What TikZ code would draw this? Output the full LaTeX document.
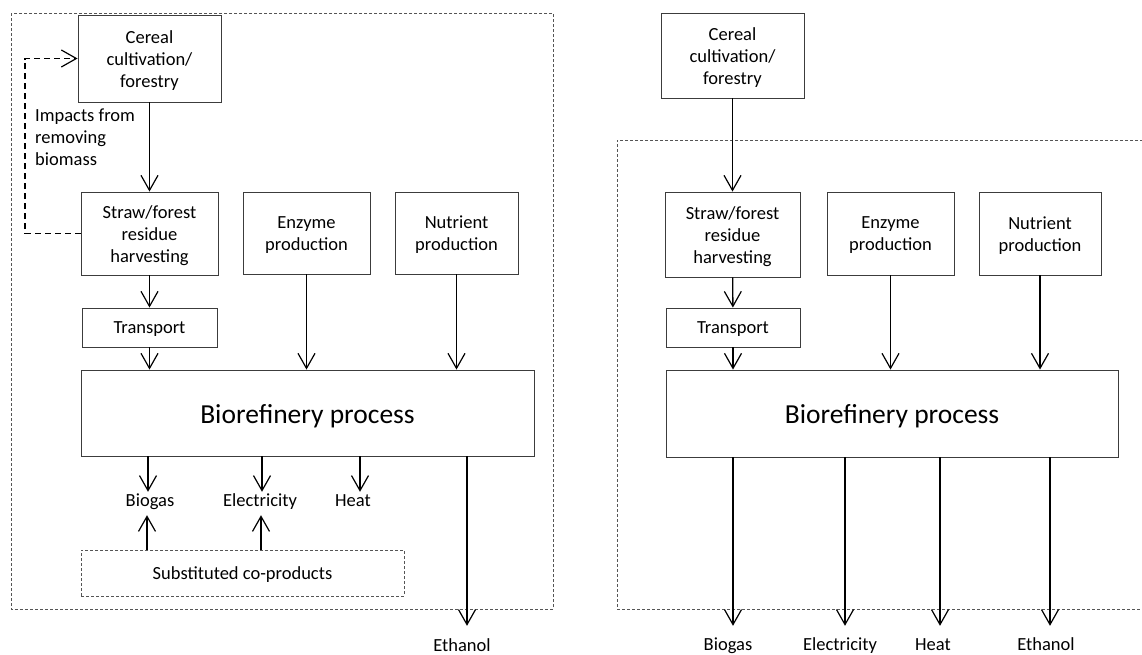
\documentclass[tikz,border=0pt]{standalone}
\usepackage{fontspec}
\setmainfont{Carlito}
\usetikzlibrary{arrows.meta}
\definecolor{boxgray}{HTML}{3C3C3C}
\definecolor{dashgray}{HTML}{555555}
\begin{document}
\begin{tikzpicture}[x=1pt,y=-1pt,
  box/.style={draw=boxgray, line width=0.9pt, inner sep=0pt},
  txt/.style={draw=none, align=center, inner sep=0pt, yshift=-2pt,
    font=\fontsize{18.5pt}{22pt}\selectfont},
  bigtxt/.style={txt, yshift=-1pt, font=\fontsize{27.5pt}{33pt}\selectfont},
  tb/.style={label={[txt]center:{#1}}},
  btb/.style={label={[bigtxt]center:{#1}}},
  lbl/.style={inner sep=2pt, text height=12pt, text depth=7pt, anchor=base,
    font=\fontsize{18.5pt}{22pt}\selectfont},
  arr/.style={line width=1.3pt, -{Straight Barb[length=15pt,width=17pt,line width=1.2pt]}},
  fbarr/.style={arr, dash pattern=on 6pt off 4pt},
  outdash/.style={draw=dashgray, line width=0.8pt, dash pattern=on 3pt off 2pt},
]
\useasboundingbox (0,0) rectangle (1142,654);

% ---------- left panel ----------
\draw[outdash] (11,13) rectangle (553,609);
\node[box, tb={Cereal\\cultivation/\\forestry}, minimum width=143pt, minimum height=87pt] (cerealL) at (149.5,58.5) {};
\node[box, tb={Straw/forest\\residue\\harvesting}, minimum width=137pt, minimum height=83pt] (strawL) at (149.5,233.5) {};
\node[box, tb={Enzyme\\production}, minimum width=127pt, minimum height=82pt] (enzL) at (306.5,233) {};
\node[box, tb={Nutrient\\production}, minimum width=123pt, minimum height=82pt] (nutL) at (456.5,233) {};
\node[box, tb={Transport}, minimum width=135pt, minimum height=39pt] (transL) at (149.5,327.5) {};
\node[box, btb={Biorefinery process}, minimum width=453pt, minimum height=86pt] (bioL) at (307.5,413) {};
\node[box, outdash, tb={Substituted co-products}, minimum width=323pt, minimum height=46pt] (subL) at (242.5,573) {};

\node[lbl] (bgL) at (150,506) {Biogas};
\node[lbl] (elL) at (260,506) {Electricity};
\node[lbl] (htL) at (353,506) {Heat};
\node[lbl] (etL) at (462,651) {Ethanol};

\node[anchor=north west, align=left, inner sep=0pt,
  font=\fontsize{18.5pt}{22pt}\selectfont] (impact) at (35,109) {Impacts from\\removing\\biomass};

\coordinate (fb) at (25,150);
\draw[fbarr] (strawL.west) -- (strawL.west -| fb) -- (cerealL.west -| fb) -- (cerealL.west);

\draw[arr] (cerealL) -- (strawL);
\draw[arr] (strawL) -- (transL);
\draw[arr] (transL.south) -- (transL.south |- bioL.north);
\draw[arr] (enzL.south) -- (enzL.south |- bioL.north);
\draw[arr] (nutL.south) -- (nutL.south |- bioL.north);

\draw[arr] ([xshift=-2pt]bioL.south -| bgL.north) -- ([xshift=-2pt]bgL.north);
\draw[arr] ([xshift=2pt]bioL.south -| elL.north) -- ([xshift=2pt]elL.north);
\draw[arr] ([xshift=7pt]bioL.south -| htL.north) -- ([xshift=7pt]htL.north);
\draw[arr, shorten >=11pt] ([xshift=5pt]bioL.south -| etL.north) -- ([xshift=5pt]etL.north);

\draw[arr] ([xshift=-3pt]subL.north -| bgL.south) -- ([xshift=-3pt]bgL.south);
\draw[arr] ([xshift=1pt]subL.north -| elL.south) -- ([xshift=1pt]elL.south);

% ---------- right panel ----------
\draw[outdash] (1143,140) -| (617,609) -- (1143,609);
\node[box, tb={Cereal\\cultivation/\\forestry}, minimum width=143pt, minimum height=85pt] (cerealR) at (732.5,55.5) {};
\node[box, tb={Straw/forest\\residue\\harvesting}, minimum width=135pt, minimum height=85pt] (strawR) at (732.5,234.5) {};
\node[box, tb={Enzyme\\production}, minimum width=127pt, minimum height=83pt] (enzR) at (890.5,233.5) {};
\node[box, tb={Nutrient\\production}, minimum width=122pt, minimum height=83pt] (nutR) at (1040,233.5) {};
\node[box, tb={Transport}, minimum width=134pt, minimum height=39pt] (transR) at (733,327.5) {};
\node[box, btb={Biorefinery process}, minimum width=452pt, minimum height=87pt] (bioR) at (892,413.5) {};

\node[lbl] (bgR) at (728,650) {Biogas};
\node[lbl] (elR) at (840,650) {Electricity};
\node[lbl] (htR) at (933,650) {Heat};
\node[lbl] (etR) at (1046,650) {Ethanol};

\draw[arr] (cerealR) -- (strawR);
\draw[arr] (strawR) -- (transR);
\draw[arr] (transR.south) -- (transR.south |- bioR.north);
\draw[arr] (enzR.south) -- (enzR.south |- bioR.north);
\draw[arr] (nutR.south) -- (nutR.south |- bioR.north);

\draw[arr, shorten >=10pt] ([xshift=5pt]bioR.south -| bgR.north) -- ([xshift=5pt]bgR.north);
\draw[arr, shorten >=10pt] ([xshift=5pt]bioR.south -| elR.north) -- ([xshift=5pt]elR.north);
\draw[arr, shorten >=10pt] ([xshift=7pt]bioR.south -| htR.north) -- ([xshift=7pt]htR.north);
\draw[arr, shorten >=10pt] ([xshift=4pt]bioR.south -| etR.north) -- ([xshift=4pt]etR.north);
\end{tikzpicture}
\end{document}
